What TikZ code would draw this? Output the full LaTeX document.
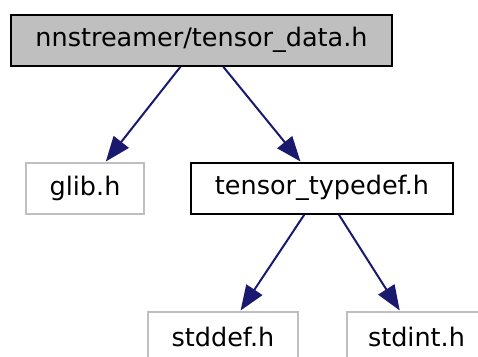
\documentclass[tikz,border=0pt]{standalone}
\usepackage{fontspec}
\setmainfont{DejaVu Sans}
\usepackage{xcolor}
\usetikzlibrary{arrows.meta}
\definecolor{edgecol}{RGB}{25,25,112}
\definecolor{boxgray}{RGB}{191,191,191}
\tikzset{
  filebox/.style={draw, line width=2pt, inner sep=0pt, minimum height=51pt,
                  font=\fontsize{25.5}{30}\selectfont},
  extbox/.style={filebox, draw=boxgray},
  dep/.style={edgecol, line width=2pt, -{Triangle[length=25pt,width=19pt]}}
}

\begin{document}
\begin{tikzpicture}[x=1pt, y=-1pt]
\useasboundingbox (0,0) rectangle (478,356);
\node[filebox, fill=boxgray, minimum width=381pt] (tdata) at (201.5,40)
    {nnstreamer/tensor\_data.h};
\node[extbox, minimum width=118pt] (glib) at (85,188) {glib.h};
\node[filebox, minimum width=262pt] (typedef) at (322,188) {tensor\_typedef.h};
\node[extbox, minimum width=150pt] (stddef) at (223,337) {stddef.h};
\node[extbox, minimum width=139pt] (stdint) at (416.5,337) {stdint.h};
\foreach \from/\to in {tdata/glib, tdata/typedef, typedef/stddef, typedef/stdint} {
  \draw[dep] (\from) -- (\to);
}
\end{tikzpicture}
\end{document}
